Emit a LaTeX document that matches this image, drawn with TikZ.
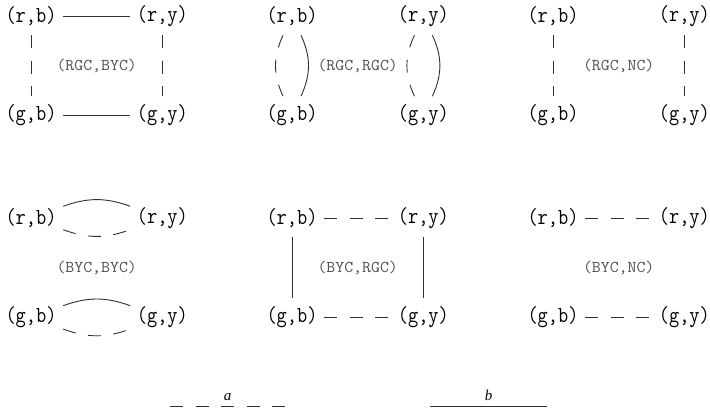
\documentclass[tikz,border=0pt]{standalone}
\usepackage{fontspec}
\setmainfont{Liberation Serif}
\newfontfamily\pairfont[FakeStretch=0.86]{Latin Modern Mono}
\newfontfamily\tagfont[FakeStretch=1.05]{Latin Modern Mono}
\usepackage{tikz}
\usetikzlibrary{
  positioning,
  calc
}
\definecolor{TagGray}{HTML}{505050}
\definecolor{EdgeGray}{HTML}{303030}
\tikzset{
  pair/.style={
    font=\pairfont\fontsize{23}{25}\selectfont,
    minimum width=64pt,
    minimum height=38pt,
    inner sep=0pt
  },
  tag/.style={
    font=\tagfont\fontsize{16.5}{18}\selectfont,
    text=TagGray
  },
  solidedge/.style={
    line width=0.9pt,
    draw=EdgeGray
  },
  dashedge/.style={
    solidedge,
    dash pattern=on 13pt off 12.5pt
  },
  legendtext/.style={
    font=\itshape\fontsize{15}{17}\selectfont
  }
}

\begin{document}
\begin{tikzpicture}[
  x=1pt,
  y=-1pt,
  node distance=61pt and 67pt
]

  \useasboundingbox (0,0) rectangle (710,413);

  % (RGC,BYC)
  \node[pair] (rb1) at (31,16) {(r,b)};
  \node[pair, right=of rb1] (ry1) {(r,y)};
  \node[pair, below=of rb1] (gb1) {(g,b)};
  \node[pair, below=of ry1] (gy1) {(g,y)};
  \node[tag] (tag1) at ($(rb1)!0.5!(gy1)$) {(RGC,BYC)};

  % (RGC,RGC)
  \node[pair] (rb2) at (292,16) {(r,b)};
  \node[pair, right=of rb2] (ry2) {(r,y)};
  \node[pair, below=of rb2] (gb2) {(g,b)};
  \node[pair, below=of ry2] (gy2) {(g,y)};
  \node[tag] (tag2) at ($(rb2)!0.5!(gy2)$) {(RGC,RGC)};

  % (RGC,NC)
  \node[pair] (rb3) at (553,16) {(r,b)};
  \node[pair, right=of rb3] (ry3) {(r,y)};
  \node[pair, below=of rb3] (gb3) {(g,b)};
  \node[pair, below=of ry3] (gy3) {(g,y)};
  \node[tag] (tag3) at ($(rb3)!0.5!(gy3)$) {(RGC,NC)};

  % (BYC,BYC)
  \node[pair] (rb4) at (31,218) {(r,b)};
  \node[pair, right=of rb4] (ry4) {(r,y)};
  \node[pair, below=of rb4] (gb4) {(g,b)};
  \node[pair, below=of ry4] (gy4) {(g,y)};
  \node[tag] (tag4) at ($(rb4)!0.5!(gy4)$) {(BYC,BYC)};

  % (BYC,RGC)
  \node[pair] (rb5) at (292,218) {(r,b)};
  \node[pair, right=of rb5] (ry5) {(r,y)};
  \node[pair, below=of rb5] (gb5) {(g,b)};
  \node[pair, below=of ry5] (gy5) {(g,y)};
  \node[tag] (tag5) at ($(rb5)!0.5!(gy5)$) {(BYC,RGC)};

  % (BYC,NC)
  \node[pair] (rb6) at (553,218) {(r,b)};
  \node[pair, right=of rb6] (ry6) {(r,y)};
  \node[pair, below=of rb6] (gb6) {(g,b)};
  \node[pair, below=of ry6] (gy6) {(g,y)};
  \node[tag] (tag6) at ($(rb6)!0.5!(gy6)$) {(BYC,NC)};

  % edges
  \draw[solidedge] (rb1) -- (ry1);
  \draw[solidedge] (gb1) -- (gy1);
  \draw[dashedge] (rb1) -- (gb1);
  \draw[dashedge] (ry1) -- (gy1);

  \draw[dashedge, bend right=25] (rb2) to (gb2);
  \draw[solidedge, bend left=25] (rb2) to (gb2);
  \draw[dashedge, bend right=25] (ry2) to (gy2);
  \draw[solidedge, bend left=25] (ry2) to (gy2);

  \draw[dashedge] (rb3) -- (gb3);
  \draw[dashedge] (ry3) -- (gy3);

  \draw[solidedge, bend left=20] (rb4) to (ry4);
  \draw[dashedge, bend right=20] (rb4) to (ry4);
  \draw[solidedge, bend left=20] (gb4) to (gy4);
  \draw[dashedge, bend right=20] (gb4) to (gy4);

  \draw[dashedge] (rb5) -- (ry5);
  \draw[dashedge] (gb5) -- (gy5);
  \draw[solidedge] (rb5) -- (gb5);
  \draw[solidedge] (ry5) -- (gy5);

  \draw[dashedge] (rb6) -- (ry6);
  \draw[dashedge] (gb6) -- (gy6);

  % legend
  \coordinate (aleft) at (170,406);
  \coordinate (aright) at (285,406);
  \coordinate (bleft) at (430,406);
  \coordinate (bright) at (547,406);
  \draw[dashedge] (aleft) -- node[legendtext, above=2pt] (alabel) {a} (aright);
  \draw[solidedge] (bleft) -- node[legendtext, above=2pt] (blabel) {b} (bright);

\end{tikzpicture}
\end{document}
